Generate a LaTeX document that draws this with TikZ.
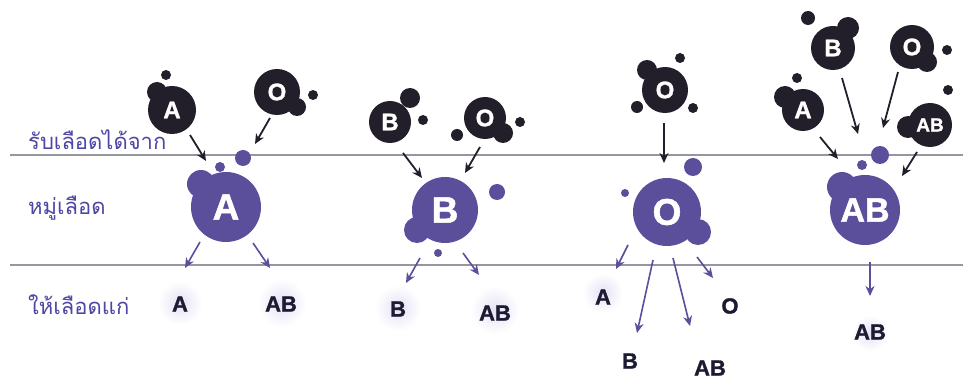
\documentclass[tikz,border=0pt]{standalone}
\usepackage{fontspec}
\setmainfont{Liberation Sans}
\newfontfamily\thaifont[Script=Thai]{Loma}
\newfontfamily\heavyfont[FakeBold=1.3]{Liberation Sans Bold}
\usetikzlibrary{arrows.meta}
\definecolor{ink}{HTML}{221E2A}
\definecolor{bubviolet}{HTML}{5B4F9C}
\definecolor{thaiblue}{HTML}{4E46A4}
\definecolor{rulegrey}{HTML}{96969F}
\definecolor{glowc}{HTML}{E4E1F3}
\definecolor{navy}{HTML}{1C1B33}
\begin{document}
\begin{tikzpicture}[x=1pt,y=-1pt,
  darkbub/.style={circle,fill=ink,inner sep=0pt,text=white,font=\heavyfont\fontsize{24}{24}\selectfont},
  purbub/.style={circle,fill=bubviolet,inner sep=0pt,text=white,font=\heavyfont\fontsize{37}{37}\selectfont},
  thailabel/.style={anchor=west,text=thaiblue,inner sep=0pt,font=\thaifont\fontsize{22}{22}\selectfont},
  givelabel/.style={text=navy,inner sep=0pt,font=\heavyfont\fontsize{22}{22}\selectfont},
  darkarrow/.style={draw=ink,line width=1.8pt,-{Stealth[length=10pt,width=9pt]}},
  purarrow/.style={draw=bubviolet,line width=1.6pt,-{Stealth[length=10pt,width=9pt]}},
  rule/.style={draw=rulegrey,line width=1.1pt}]
\fill[white] (0,0) rectangle (963,379);
\useasboundingbox (0,0) rectangle (963,379);

% rules
\coordinate (r1a) at (10,155); \coordinate (r1b) at (963,155);
\coordinate (r2a) at (10,265); \coordinate (r2b) at (963,265);
\draw[rule] (r1a) -- (r1b);
\draw[rule] (r2a) -- (r2b);

% Thai labels
\node[thailabel] (lrecv) at (28,140) {รับเลือดได้จาก};
\node[thailabel] (lgroup) at (28,208) {หมู่เลือด};
\node[thailabel] (lgive) at (28,305) {ให้เลือดแก่};

% glows behind recipient labels
\foreach \gx/\gy/\gr in {180/303/22, 282/303/24, 398/308/23, 495/310/24, 603/293/20, 870/333/18}
  \shade[inner color=glowc,outer color=white] (\gx,\gy) circle (\gr pt);

% ===== Group A =====
\fill[ink] (157,92) circle (10pt);
\fill[ink] (166,75) circle (5pt);
\node[darkbub,minimum size=48pt] (aA) at (172,110) {A};
\fill[ink] (297,107) circle (9pt);
\fill[ink] (313,95) circle (5pt);
\node[darkbub,minimum size=46pt] (aO) at (277,92) {O};
\coordinate (aAs) at (190,135); \coordinate (aAe) at (206,161);
\coordinate (aOs) at (270,118); \coordinate (aOe) at (255,144);
\draw[darkarrow] (aAs) -- (aAe);
\draw[darkarrow] (aOs) -- (aOe);
\fill[bubviolet] (243,158) circle (8pt);
\fill[bubviolet] (220,167) circle (5pt);
\fill[bubviolet] (201,184) circle (14pt);
\node[purbub,minimum size=70pt] (pA) at (226,207) {A};
\coordinate (pAs1) at (200,242); \coordinate (pAe1) at (185,268);
\coordinate (pAs2) at (253,243); \coordinate (pAe2) at (270,268);
\draw[purarrow] (pAs1) -- (pAe1);
\draw[purarrow] (pAs2) -- (pAe2);
\node[givelabel] (gA1) at (180,304) {A};
\node[givelabel] (gA2) at (281,304) {AB};

% ===== Group B =====
\fill[ink] (410,98) circle (10pt);
\fill[ink] (423,120) circle (5pt);
\node[darkbub,minimum size=42pt] (bB) at (390,122) {B};
\fill[ink] (503,133) circle (10pt);
\fill[ink] (457,135) circle (6pt);
\fill[ink] (520,122) circle (5pt);
\node[darkbub,minimum size=42pt] (bO) at (485,118) {O};
\coordinate (bBs) at (403,153); \coordinate (bBe) at (422,178);
\coordinate (bOs) at (480,147); \coordinate (bOe) at (465,173);
\draw[darkarrow] (bBs) -- (bBe);
\draw[darkarrow] (bOs) -- (bOe);
\fill[bubviolet] (417,230) circle (13pt);
\fill[bubviolet] (497,192) circle (8pt);
\fill[bubviolet] (438,253) circle (4pt);
\node[purbub,minimum size=66pt] (pB) at (445,210) {B};
\coordinate (pBs1) at (420,258); \coordinate (pBe1) at (406,283);
\coordinate (pBs2) at (463,253); \coordinate (pBe2) at (479,275);
\draw[purarrow] (pBs1) -- (pBe1);
\draw[purarrow] (pBs2) -- (pBe2);
\node[givelabel] (gB1) at (398,309) {B};
\node[givelabel] (gB2) at (495,313) {AB};

% ===== Group O =====
\fill[ink] (647,70) circle (10pt);
\fill[ink] (680,58) circle (5pt);
\fill[ink] (637,107) circle (6pt);
\fill[ink] (693,108) circle (5pt);
\node[darkbub,minimum size=46pt] (oO) at (665,90) {O};
\coordinate (oOs) at (664,123); \coordinate (oOe) at (664,163);
\draw[darkarrow] (oOs) -- (oOe);
\fill[bubviolet] (698,232) circle (13pt);
\fill[bubviolet] (693,167) circle (9pt);
\fill[bubviolet] (625,193) circle (4pt);
\node[purbub,minimum size=68pt] (pO) at (667,212) {O};
\coordinate (pOs1) at (628,245); \coordinate (pOe1) at (616,269);
\coordinate (pOs2) at (653,260); \coordinate (pOe2) at (637,333);
\coordinate (pOs3) at (673,258); \coordinate (pOe3) at (690,326);
\coordinate (pOs4) at (697,257); \coordinate (pOe4) at (713,278);
\draw[purarrow] (pOs1) -- (pOe1);
\draw[purarrow] (pOs2) -- (pOe2);
\draw[purarrow] (pOs3) -- (pOe3);
\draw[purarrow] (pOs4) -- (pOe4);
\node[givelabel] (gO1) at (603,297) {A};
\node[givelabel] (gO2) at (730,306) {O};
\node[givelabel] (gO3) at (630,361) {B};
\node[givelabel] (gO4) at (710,368) {AB};

% ===== Group AB =====
\fill[ink] (848,28) circle (11pt);
\fill[ink] (808,18) circle (7pt);
\node[darkbub,minimum size=44pt] (xB) at (833,48) {B};
\fill[ink] (927,62) circle (10pt);
\fill[ink] (947,50) circle (5pt);
\node[darkbub,minimum size=44pt] (xO) at (912,47) {O};
\fill[ink] (785,97) circle (11pt);
\fill[ink] (797,78) circle (5pt);
\node[darkbub,minimum size=42pt] (xA) at (803,110) {A};
\fill[ink] (908,127) circle (11pt);
\fill[ink] (948,90) circle (5pt);
\node[darkbub,minimum size=44pt,font=\heavyfont\fontsize{19}{19}\selectfont] (xAB) at (930,125) {AB};
\coordinate (xAs) at (820,137); \coordinate (xAe) at (838,159);
\coordinate (xBs) at (842,78); \coordinate (xBe) at (858,134);
\coordinate (xOs) at (898,72); \coordinate (xOe) at (883,128);
\coordinate (xABs) at (917,152); \coordinate (xABe) at (902,176);
\draw[darkarrow] (xAs) -- (xAe);
\draw[darkarrow] (xBs) -- (xBe);
\draw[darkarrow] (xOs) -- (xOe);
\draw[darkarrow] (xABs) -- (xABe);
\fill[bubviolet] (842,187) circle (15pt);
\fill[bubviolet] (880,155) circle (9pt);
\fill[bubviolet] (862,165) circle (5pt);
\node[purbub,minimum size=70pt,font=\heavyfont\fontsize{34}{34}\selectfont] (pAB) at (865,210) {AB};
\coordinate (pABs) at (870,262); \coordinate (pABe) at (870,296);
\draw[purarrow] (pABs) -- (pABe);
\node[givelabel] (gX1) at (870,332) {AB};
\end{tikzpicture}
\end{document}
